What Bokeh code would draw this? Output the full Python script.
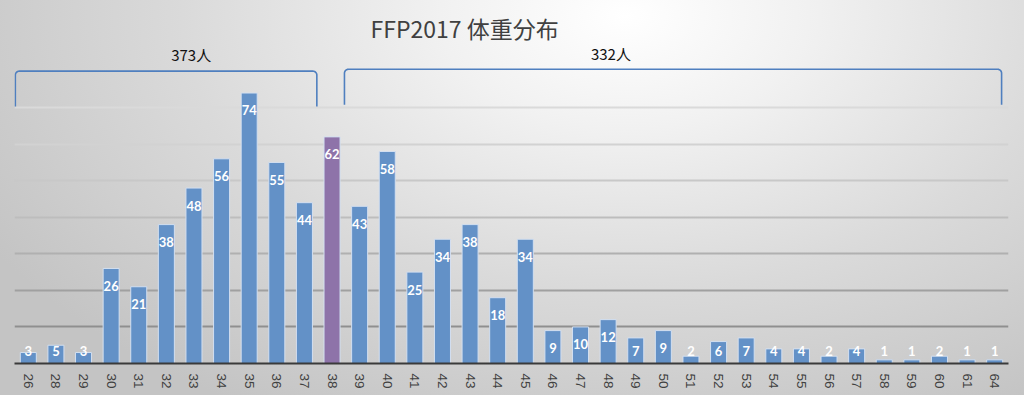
import math
import numpy as np
from bokeh.plotting import figure
from bokeh.models import ColumnDataSource, Range1d, FactorRange
from bokeh.core.properties import value
from bokeh.embed import file_html
from bokeh.resources import INLINE

# ---------------- data ----------------
weights = ["26", "28", "29", "30", "31", "32", "33", "34", "35", "36", "37", "38",
           "39", "40", "41", "42", "43", "44", "45", "46", "47", "48", "49", "50",
           "51", "52", "53", "54", "55", "56", "57", "58", "59", "60", "61", "64"]
counts = [3, 5, 3, 26, 21, 38, 48, 56, 74, 55, 44, 62,
          43, 58, 25, 34, 38, 18, 34, 9, 10, 12, 7, 9,
          2, 6, 7, 4, 4, 2, 4, 1, 1, 2, 1, 1]
highlight = "38"
title_text = "FFP2017 体重分布"
group_left = ["26", "28", "29", "30", "31", "32", "33", "34", "35", "36", "37"]
group_right = ["39", "40", "41", "42", "43", "44", "45", "46", "47", "48", "49", "50",
               "51", "52", "53", "54", "55", "56", "57", "58", "59", "60", "61", "64"]
group_suffix = "人"

# ---------------- style ----------------
BLUE = "#6391c7"
PURPLE = "#8e73a9"
BAR_EDGE = "#d3dff0"
BRACKET = "#4f7fbf"
Y_MAX = 87
PX_PER_UNIT = 3.66
PX_PER_CAT = 27.6

colors = [PURPLE if w == highlight else BLUE for w in weights]
label_y = [max(c - 17.5 / PX_PER_UNIT, 12.6 / PX_PER_UNIT) for c in counts]
src = ColumnDataSource(dict(w=weights, c=counts, color=colors,
                            lab=[str(c) for c in counts], ly=label_y))

p = figure(x_range=FactorRange(factors=weights, range_padding=0, factor_padding=0),
           y_range=Range1d(0, Y_MAX),
           width=1024, height=395, output_backend="svg", toolbar_location=None,
           min_border_left=14, min_border_right=16, min_border_top=45, min_border_bottom=32)

p.styles = {"background": "radial-gradient(ellipse 72% 115% at 61% 4%, #ffffff 0%, #f1f1f1 25%, #dadada 60%, #c4c4c4 100%)"}
p.border_fill_color = None
p.background_fill_color = None
p.outline_line_color = None

p.title.text = title_text
p.title.align = "left"
p.title.offset = 356
p.title.text_font = "Noto Sans CJK JP"
p.title.text_font_size = "23px"
p.title.text_font_style = "normal"
p.title.text_color = "#404040"
p.title.standoff = 1

p.xgrid.visible = False
p.ygrid.visible = False
p.yaxis.visible = False

# gridlines (darker toward the bottom)
levels = [10, 20, 30, 40, 50, 60, 70]
grid_cols = ["#8f8f8f", "#a0a0a0", "#b0b0b0", "#bdbdbd", "#c8c8c8", "#d2d2d2", "#dadada"]
p.hspan(y=levels, line_color=grid_cols, line_width=2)

# bars
p.vbar(x="w", top="c", width=0.58, source=src, fill_color="color",
       line_color=BAR_EDGE, line_width=1)

p.text(x="w", y="ly", text="lab", source=src, text_color="white",
       text_font=value("Lato"), text_font_style="bold", text_font_size="13px",
       text_align="center", text_baseline="middle")

# brackets (synthetic categorical coordinates: factor i spans [i, i+1])
def bracket(x0, x1, y0, y1):
    rx = 4 / PX_PER_CAT
    ry = 4 / PX_PER_UNIT
    t = np.linspace(0, math.pi / 2, 8)
    xs = [x0]
    ys = [y0]
    xs += list(x0 + rx - rx * np.cos(t))
    ys += list(y1 - ry + ry * np.sin(t))
    xs += list(x1 - rx + rx * np.sin(t))
    ys += list(y1 - ry + ry * np.cos(t))
    xs.append(x1)
    ys.append(y0)
    return [float(v) for v in xs], [float(v) for v in ys]

li0 = weights.index(group_left[0])
li1 = weights.index(group_left[-1])
ri0 = weights.index(group_right[0])
ri1 = weights.index(group_right[-1])
lx, ly = bracket(li0 + 0.03, li1 + 0.95, 70.3, 80)
rx_, ry_ = bracket(ri0 - 0.05, ri1 + 0.75, 70.8, 80.5)
p.line(lx, ly, line_color=BRACKET, line_width=1.6)
p.line(rx_, ry_, line_color=BRACKET, line_width=1.6)

left_total = sum(counts[weights.index(w)] for w in group_left)
right_total = sum(counts[weights.index(w)] for w in group_right)
p.text(x=[6.4, 21.6], y=[84.5, 84.9],
       text=[f"{left_total}{group_suffix}", f"{right_total}{group_suffix}"],
       text_color="#111111", text_font=value("Noto Sans CJK JP"),
       text_font_size="15px", text_align="center", text_baseline="middle")

# axis
ax = p.xaxis[0]
ax.axis_line_color = "#3a3a3a"
ax.axis_line_width = 2
ax.major_tick_line_color = None
ax.minor_tick_line_color = None
ax.major_label_orientation = -math.pi / 2
ax.major_label_text_font = "Liberation Sans"
ax.major_label_text_font_size = "13.5px"
ax.major_label_text_color = "#404040"
ax.major_label_standoff = 4

open("out.html", "w").write(file_html(p, INLINE))
